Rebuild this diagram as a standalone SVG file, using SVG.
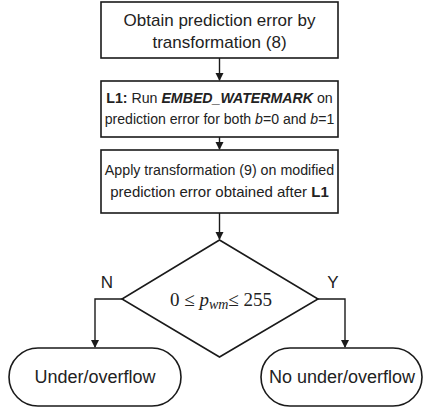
<svg xmlns="http://www.w3.org/2000/svg" width="425" height="410" viewBox="0 0 425 410">
<defs>
<marker id="ah" markerWidth="8" markerHeight="10" refX="7" refY="5" orient="auto" markerUnits="userSpaceOnUse">
<path d="M0,1 L8,5 L0,9 Z" fill="#1a1a1a"/>
</marker>
<style>
.box{fill:#fff;stroke:#1a1a1a;stroke-width:1.6}
.ln{fill:none;stroke:#1a1a1a;stroke-width:1.4}
.t{font-family:"Liberation Sans",Arial,sans-serif;font-size:15px;fill:#222;text-anchor:middle}
.t1{font-size:17px}
.tt{font-size:18px}
.m{font-family:"Liberation Serif","Times New Roman",serif;font-size:19px;fill:#222;text-anchor:middle}
</style>
</defs>
<rect width="425" height="410" fill="#fff"/>
<g id="connectors">
<line class="ln" x1="219.5" y1="58" x2="219.5" y2="80" marker-end="url(#ah)"/>
<line class="ln" x1="219.5" y1="137" x2="219.5" y2="149" marker-end="url(#ah)"/>
<line class="ln" x1="219.5" y1="213" x2="219.5" y2="239" marker-end="url(#ah)"/>
<polyline class="ln" points="122,299 95,299 95,347" marker-end="url(#ah)"/>
<polyline class="ln" points="318,299 345,299 345,347" marker-end="url(#ah)"/>
<text class="t t1" x="107" y="288">N</text>
<text class="t t1" x="333" y="288">Y</text>
</g>
<g id="box1">
<rect class="box" x="101" y="2" width="237" height="56"/>
<text class="t t1" x="219.5" y="26">Obtain prediction error by</text>
<text class="t t1" x="219.5" y="48">transformation (8)</text>
</g>
<g id="box2">
<rect class="box" x="101" y="81" width="237" height="56"/>
<text class="t" transform="translate(219.5,103) scale(0.945,1)"><tspan font-weight="bold">L1:</tspan> Run <tspan font-weight="bold" font-style="italic">EMBED_WATERMARK</tspan> on</text>
<text class="t" transform="translate(219.5,124) scale(0.94,1)">prediction error for both <tspan font-style="italic">b</tspan>=0 and <tspan font-style="italic">b</tspan>=1</text>
</g>
<g id="box3">
<rect class="box" x="101" y="150" width="237" height="63"/>
<text class="t" transform="translate(219.5,175) scale(0.95,1)">Apply transformation (9) on modified</text>
<text class="t" x="219.5" y="197">prediction error obtained after <tspan font-weight="bold">L1</tspan></text>
</g>
<g id="decision">
<polygon class="box" points="219.5,240 318,299 219.5,357 122,299"/>
<text class="m" x="221" y="306">0 ≤  <tspan font-style="italic">p</tspan><tspan font-style="italic" font-size="14px" dy="3">wm</tspan><tspan dy="-3">≤ 255</tspan></text>
</g>
<g id="end-under">
<rect class="box" x="9" y="348" width="172" height="58" rx="29" ry="29"/>
<text class="t tt" x="95" y="383">Under/overflow</text>
</g>
<g id="end-no">
<rect class="box" x="261" y="348" width="161" height="58" rx="29" ry="29"/>
<text class="t tt" x="342" y="383">No under/overflow</text>
</g>
</svg>
